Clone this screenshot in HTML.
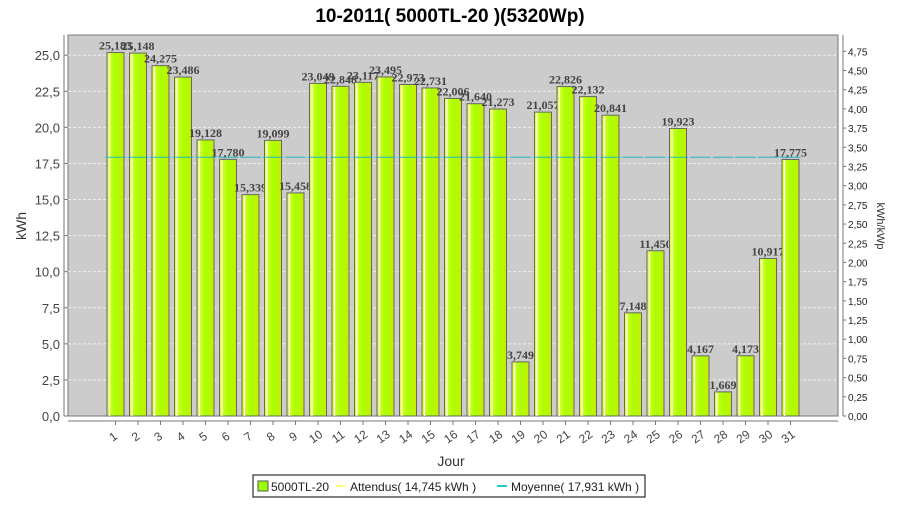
<!DOCTYPE html>
<html><head><meta charset="utf-8"><style>
body{margin:0;background:#fff;width:900px;height:500px;overflow:hidden;font-family:"Liberation Sans",sans-serif}
</style></head><body>
<svg id="chart" width="900" height="500" xmlns="http://www.w3.org/2000/svg">
<defs><linearGradient id="bg" x1="0" x2="1" y1="0" y2="0"><stop offset="0" stop-color="#eaff3a"/><stop offset="0.5" stop-color="#a8ff00"/><stop offset="1" stop-color="#c8ee00"/></linearGradient></defs>
<text x="450" y="22" text-anchor="middle" font-size="19" font-weight="bold" fill="#000">10-2011( 5000TL-20 )(5320Wp)</text>
<rect x="68" y="35" width="770" height="381" fill="#cccccc" stroke="#777"/>
<g id="grid"></g><g id="bars"></g><g id="avg"></g><g id="axes"></g>
<text transform="translate(26,226) rotate(-90)" text-anchor="middle" font-size="14" fill="#333">kWh</text>
<text transform="translate(877,226) rotate(90)" text-anchor="middle" font-size="11" fill="#333">kWh/kWp</text>
<text x="451" y="466" text-anchor="middle" font-size="14" fill="#333">Jour</text>
<g>
<rect x="253" y="475" width="392" height="22" fill="#fff" stroke="#000"/>
<rect x="258" y="481" width="10" height="10" fill="#99ff00" stroke="#555"/>
<text x="271" y="491" font-size="12" fill="#222">5000TL-20</text>
<line x1="336" y1="486" x2="346" y2="486" stroke="#ffff88" stroke-width="2"/>
<text x="350" y="491" font-size="12" fill="#222">Attendus( 14,745 kWh )</text>
<line x1="497" y1="486" x2="507" y2="486" stroke="#22cccc" stroke-width="2"/>
<text x="511" y="491" font-size="12" fill="#222">Moyenne( 17,931 kWh )</text>
</g>
</svg>
<script>
const categories=["1","2","3","4","5","6","7","8","9","10","11","12","13","14","15","16","17","18","19","20","21","22","23","24","25","26","27","28","29","30","31"];
const values=[25.183,25.148,24.275,23.486,19.128,17.780,15.339,19.099,15.458,23.049,22.848,23.117,23.495,22.973,22.731,22.006,21.640,21.273,3.749,21.057,22.826,22.132,20.841,7.148,11.450,19.923,4.167,1.669,4.173,10.917,17.775];
const average=[17.931];
const leftTicks=[0,2.5,5,7.5,10,12.5,15,17.5,20,22.5,25];
const rightTicks=[0,0.25,0.5,0.75,1,1.25,1.5,1.75,2,2.25,2.5,2.75,3,3.25,3.5,3.75,4,4.25,4.5,4.75];
const kwp=5.32;
const NS="http://www.w3.org/2000/svg";
const X0=68,X1=838,Y0=416,YT=35,YMAX=26.4;
const y=v=>Y0-v/YMAX*(Y0-YT);
const y2=v=>y(v*kwp);
const step=22.5,first=115.5;
const x=i=>first+i*step;
const fmt=(v,d)=>v.toFixed(d).replace('.',',');
function mk(tag,attrs,parent,txt){const e=document.createElementNS(NS,tag);for(const k in attrs)e.setAttribute(k,attrs[k]);if(txt!==undefined)e.textContent=txt;document.getElementById(parent).appendChild(e);return e;}
leftTicks.forEach(t=>{
 if(t>0){const g=mk('line',{x1:X0,x2:X1,y1:y(t),y2:y(t),stroke:'#eee','stroke-dasharray':'3,2','stroke-width':1},'grid');
 
 }
 const l=mk('text',{x:X0-8,y:y(t)+5,'text-anchor':'end','font-size':13,fill:'#444'},'axes',fmt(t,1));
 
 
 mk('line',{x1:X0-4,x2:X0,y1:y(t),y2:y(t),stroke:'#777'},'axes');
});
mk('line',{x1:X0-4,x2:X0-4,y1:YT,y2:Y0,stroke:'#777'},'axes');
mk('line',{x1:X1+5,x2:X1+5,y1:YT,y2:Y0,stroke:'#777'},'axes');
mk('line',{x1:X0,x2:X1,y1:Y0+5,y2:Y0+5,stroke:'#777'},'axes');
rightTicks.forEach(t=>{
 mk('line',{x1:X1+5,x2:X1+8,y1:y2(t),y2:y2(t),stroke:'#777'},'axes');
 const l=mk('text',{x:X1+10,y:y2(t)+4,'font-size':10,fill:'#222'},'axes',fmt(t,2));
 
 
});
values.forEach((v,i)=>{
 const cx=x(i);
 const b=mk('rect',{x:cx-8.5,y:y(v),width:17,height:Y0-y(v),fill:'url(#bg)',stroke:'#666','stroke-width':1},'bars');
 
 
 mk('line',{x1:cx-6,x2:cx-6,y1:y(v)+1,y2:Y0,stroke:'#fff','stroke-width':1.2},'bars');
 const a=mk('line',{x1:cx-step/2+1,x2:cx+step/2-1,y1:y(average[0]),y2:y(average[0]),stroke:'#1fb5c5','stroke-width':1},'avg');
 
 
 const t=mk('text',{x:cx,y:y(v)-3,'text-anchor':'middle','font-size':12,'font-weight':'bold','font-family':'Liberation Serif,serif',fill:'#444'},'bars',fmt(v,3));
 
 
 mk('line',{x1:cx,x2:cx,y1:Y0+5,y2:Y0+9,stroke:'#777'},'axes');
 const c=mk('text',{x:0,y:0,'text-anchor':'middle','font-size':12,fill:'#444',transform:`translate(${cx},${Y0+24}) rotate(-35)`},'axes',categories[i]);
 
 
});
</script>
</body></html>
